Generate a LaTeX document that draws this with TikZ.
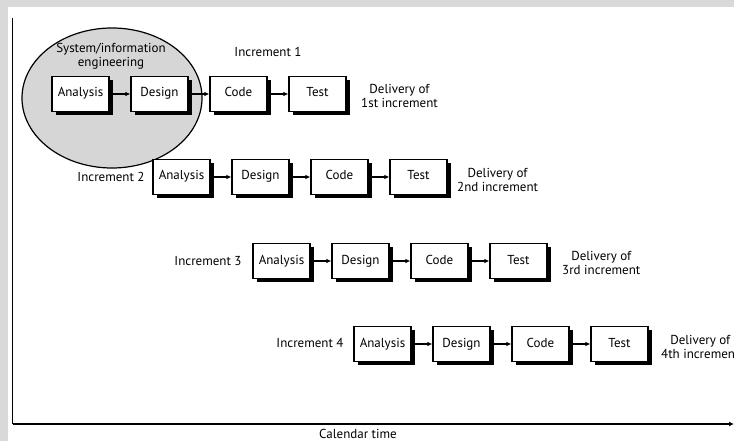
\documentclass[tikz,border=0pt]{standalone}
\usepackage{fontspec}
\setmainfont{PT Sans}
\usetikzlibrary{shadows,arrows.meta}
\begin{document}
\begin{tikzpicture}[x=1pt,y=-1pt,
  font=\fontsize{13}{14}\selectfont,
  stagebox/.style={draw=black,line width=1.1pt,fill=white,minimum width=57pt,minimum height=35pt,inner sep=0pt,
    text height=9pt,text depth=3pt,
    general shadow={fill=black,shadow xshift=3.5pt,shadow yshift=-3.5pt}},
  flow/.style={line width=2pt,-{Latex[length=5pt,width=4.5pt]}},
  axis/.style={line width=1.8pt},
  lbl/.style={inner sep=0pt,align=center}]
% page and frame
\useasboundingbox (0,0) rectangle (734,441);
\fill[gray!30] (0,0) rectangle (734,441);
\fill[white] (8,7) rectangle (734,441);
% system/information engineering region
\draw[line width=1.2pt,fill=gray!32] (112,98) ellipse [x radius=90pt,y radius=70pt];
\node[lbl] (sie) at (111,56) {System/information\\engineering};
% increments
\foreach \r/\lx/\yy in {1/52/94,2/153/177,3/253/261,4/354/344}{
  \node[stagebox] (a\r) at (\lx+28.5,\yy) {Analysis};
  \node[stagebox] (d\r) at (\lx+107.5,\yy) {Design};
  \node[stagebox] (c\r) at (\lx+186.5,\yy) {Code};
  \node[stagebox] (t\r) at (\lx+265.5,\yy) {Test};
  \draw[flow] ([xshift=3.5pt]a\r.east) -- (d\r.west);
  \draw[flow] ([xshift=3.5pt]d\r.east) -- (c\r.west);
  \draw[flow] ([xshift=3.5pt]c\r.east) -- (t\r.west);
}
\node[lbl] (inc1) at (268,52) {Increment 1};
\node[lbl] (inc2) at (111,177) {Increment 2};
\node[lbl] (inc3) at (208,261) {Increment 3};
\node[lbl] (inc4) at (310,343) {Increment 4};
\node[lbl,anchor=west] (del1) at (361,96) {Delivery of\\1st increment};
\node[lbl,anchor=west] (del2) at (457,180) {Delivery of\\2nd increment};
\node[lbl,anchor=west] (del3) at (562,263) {Delivery of\\3rd increment};
\node[lbl,anchor=west] (del4) at (661,347) {Delivery of\\4th increment};
% calendar axis
\coordinate (top) at (12.5,18);
\coordinate (orig) at (12.5,424);
\coordinate (tend) at (734,424);
\draw[axis] (top) -- (orig);
\draw[axis,-{Latex[length=5pt,width=5pt]}] (orig) -- (tend);
\node[lbl] (cal) at (358,433.5) {Calendar time};
\end{tikzpicture}
\end{document}
